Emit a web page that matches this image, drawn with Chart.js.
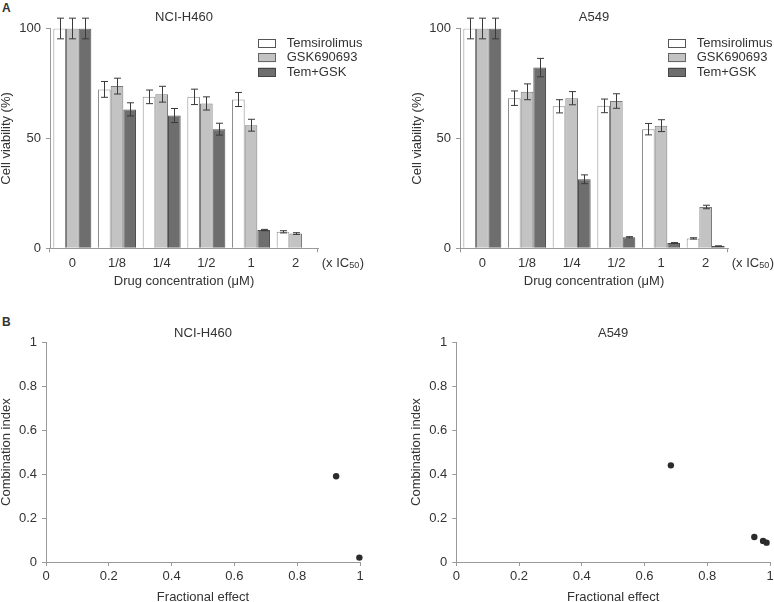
<!DOCTYPE html>
<html><head><meta charset="utf-8">
<script src="https://cdn.jsdelivr.net/npm/chart.js@4"></script>
<style>
html,body{margin:0;padding:0;background:#fff;width:774px;height:602px;overflow:hidden;font-family:'Liberation Sans',Arial,sans-serif;}
.box{position:absolute;}
.box canvas{display:block;}
.panel{position:absolute;font-weight:bold;font-size:12px;line-height:12px;color:#333;}
</style></head><body>
<div class="panel" style="left:2px;top:2.4px">A</div>
<div class="panel" style="left:2px;top:315.7px">B</div>
<div class="box" style="left:0;top:0;width:390px;height:300px"><canvas id="c1" width="390" height="300"></canvas></div>
<div class="box" style="left:390px;top:0;width:384px;height:300px"><canvas id="c2" width="384" height="300"></canvas></div>
<div class="box" style="left:0;top:300px;width:390px;height:310px"><canvas id="c3" width="390" height="310"></canvas></div>
<div class="box" style="left:390px;top:300px;width:384px;height:310px"><canvas id="c4" width="384" height="310"></canvas></div>
<script>
// ---------- data ----------
const categories = ['0', '1/8', '1/4', '1/2', '1', '2'];
const seriesNames = ['Temsirolimus', 'GSK690693', 'Tem+GSK'];
const viabilityTicks = [0, 50, 100];
const fractionTicks = [0, 0.2, 0.4, 0.6, 0.8, 1];
const ciTicks = [0, 0.2, 0.4, 0.6, 0.8, 1];

const h460Tem = [100, 72.3, 68.9, 68.9, 67.7, 7.5];
const h460Gsk = [100, 73.8, 70.1, 65.9, 56.0, 6.7];
const h460Combo = [100, 63.2, 60.4, 54.2, 8.3, 0];
const h460TemErr = [4.7, 3.6, 3.1, 3.5, 3.2, 0.5];
const h460GskErr = [4.7, 3.6, 3.6, 3.0, 2.7, 0.4];
const h460ComboErr = [4.7, 3.0, 3.2, 2.7, 0.3, 0];

const a549Tem = [100, 68.3, 64.6, 64.8, 54.2, 4.5];
const a549Gsk = [100, 71.2, 68.3, 67.0, 55.8, 18.8];
const a549Combo = [100, 82.2, 31.4, 5.0, 2.4, 1.0];
const a549TemErr = [4.7, 3.3, 3.0, 3.1, 2.6, 0.3];
const a549GskErr = [4.7, 3.6, 3.0, 3.3, 2.7, 0.8];
const a549ComboErr = [4.7, 4.2, 2.0, 0.3, 0.2, 0.1];

const h460Fa = [0.924, 0.998];
const h460CI = [0.39, 0.02];
const a549Fa = [0.684, 0.950, 0.978, 0.989];
const a549CI = [0.44, 0.114, 0.096, 0.088];

// ---------- style ----------
const FAMILY = "'Liberation Sans', Arial, sans-serif";
const TEXT = '#333333';
const AXIS = '#999999';
const barFills = ['#ffffff', '#c3c3c3', '#6e6e6e'];
const barBorders = ['#8c8c8c', '#7a7a7a', '#4d4d4d'];
const legendBorders = ['#555555', '#666666', '#444444'];

const errorBarPlugin = {
  id: 'errorBars',
  afterDatasetsDraw(chart) {
    const ctx = chart.ctx, y = chart.scales.y;
    chart.data.datasets.forEach((ds, i) => {
      if (!ds.errors) return;
      const meta = chart.getDatasetMeta(i);
      meta.data.forEach((bar, j) => {
        const e = ds.errors[j];
        if (!e) return;
        const v = ds.data[j];
        const x = Math.round(bar.x) + 0.5;
        const top = y.getPixelForValue(v + e), bot = y.getPixelForValue(v - e);
        const half = 3.5;
        ctx.save();
        ctx.strokeStyle = '#3a3a3a';
        ctx.lineWidth = 1;
        ctx.beginPath();
        ctx.moveTo(x, top); ctx.lineTo(x, bot);
        ctx.moveTo(x - half, top); ctx.lineTo(x + half, top);
        ctx.moveTo(x - half, bot); ctx.lineTo(x + half, bot);
        ctx.stroke();
        ctx.restore();
      });
    });
  }
};

const decorPlugin = {
  id: 'decor',
  afterDraw(chart, args, opts) {
    const {ctx, chartArea} = chart;
    ctx.save();
    ctx.fillStyle = TEXT;
    ctx.font = '13px ' + FAMILY;
    ctx.textBaseline = 'middle';
    if (opts.title) {
      ctx.textAlign = 'center';
      ctx.fillText(opts.title, (chartArea.left + chartArea.right) / 2, chartArea.top - opts.titleGap);
    }
    if (opts.unit) {
      ctx.textAlign = 'left';
      const ux = chartArea.right + 3.7, uy = chartArea.bottom + 14.7;
      ctx.fillText('(x IC', ux, uy);
      const w1 = ctx.measureText('(x IC').width;
      ctx.font = '9px ' + FAMILY;
      ctx.fillText('50', ux + w1, uy + 3);
      const w2 = ctx.measureText('50').width;
      ctx.font = '13px ' + FAMILY;
      ctx.fillText(')', ux + w1 + w2 + 0.5, uy);
    }
    if (opts.legend) {
      const lx = chartArea.right - 59.7;
      chart.data.datasets.forEach((ds, i) => {
        const cy = chartArea.top + 14.7 + i * 14.5;
        ctx.fillStyle = ds.backgroundColor;
        ctx.fillRect(lx, cy - 4.5, 17.7, 9);
        ctx.strokeStyle = ds.legendBorder;
        ctx.lineWidth = 1;
        ctx.strokeRect(Math.round(lx) + 0.5, Math.round(cy - 4.5) + 0.5, 17, 8);
        ctx.fillStyle = TEXT;
        ctx.textAlign = 'left';
        ctx.fillText(ds.label, lx + 28.4, cy);
      });
    }
    ctx.restore();
  }
};

function barChart(id, title, series, errs, padRight, yWidth, yTitlePad) {
  return new Chart(document.getElementById(id), {
    type: 'bar',
    data: {
      labels: categories,
      datasets: series.map((d, i) => ({
        label: seriesNames[i], data: d, errors: errs[i],
        backgroundColor: barFills[i], borderColor: barBorders[i], legendBorder: legendBorders[i],
        borderWidth: 1, borderSkipped: 'start',
        categoryPercentage: 0.85, barPercentage: 1
      }))
    },
    options: {
      responsive: false, animation: false, devicePixelRatio: 1,
      layout: {padding: {top: 28.5, right: padRight, left: 0, bottom: 0}},
      plugins: {
        legend: {display: false}, tooltip: {enabled: false},
        decor: {title: title, titleGap: 11.5, unit: true, legend: true}
      },
      scales: {
        x: {
          grid: {display: true, drawOnChartArea: false, drawTicks: true, tickLength: 4, lineWidth: 1,
                 color: c => (c.type === 'scale' || c.index === 0) ? AXIS : 'rgba(0,0,0,0)'},
          border: {display: true, color: AXIS, width: 1},
          ticks: {color: TEXT, font: {size: 13, family: FAMILY}, padding: 3, maxRotation: 0, autoSkip: false},
          title: {display: true, text: 'Drug concentration (\u03bcM)', color: TEXT,
                  font: {size: 13, family: FAMILY}, padding: {top: 0, bottom: 11.2}},
          afterFit: s => { s.height = 51.7; s.paddingLeft = 0; s.paddingRight = 0; }
        },
        y: {
          min: 0, max: 100,
          afterBuildTicks: s => { s.ticks = viabilityTicks.map(v => ({value: v})); },
          grid: {drawOnChartArea: false, drawTicks: true, tickLength: 4, color: AXIS},
          border: {display: true, color: AXIS, width: 1},
          ticks: {color: TEXT, font: {size: 13, family: FAMILY}, padding: 5},
          title: {display: true, text: 'Cell viability (%)', color: TEXT,
                  font: {size: 13, family: FAMILY, lineHeight: 1}, padding: {top: yTitlePad, bottom: 0}},
          afterFit: s => { s.width = yWidth; s.paddingTop = 0; s.paddingBottom = 0; }
        }
      }
    },
    plugins: [errorBarPlugin, decorPlugin]
  });
}

function ciChart(id, title, fa, ci, padRight, yWidth, yTitlePad) {
  return new Chart(document.getElementById(id), {
    type: 'scatter',
    data: {
      datasets: [{
        label: title,
        data: fa.map((x, i) => ({x: x, y: ci[i]})),
        backgroundColor: '#2b2b2b', borderColor: '#2b2b2b',
        pointRadius: 3.2, pointBorderWidth: 0, clip: false
      }]
    },
    options: {
      responsive: false, animation: false, devicePixelRatio: 1,
      layout: {padding: {top: 42.3, right: padRight, left: 0, bottom: 0}},
      plugins: {
        legend: {display: false}, tooltip: {enabled: false},
        decor: {title: title, titleGap: 9.3, unit: false, legend: false}
      },
      scales: {
        x: {
          type: 'linear', min: 0, max: 1,
          afterBuildTicks: s => { s.ticks = fractionTicks.map(v => ({value: v})); },
          grid: {drawOnChartArea: false, drawTicks: true, tickLength: 4, color: AXIS},
          border: {display: true, color: AXIS, width: 1},
          ticks: {color: TEXT, font: {size: 13, family: FAMILY}, padding: 3, maxRotation: 0,
                  callback: v => String(v)},
          title: {display: true, text: 'Fractional effect', color: TEXT,
                  font: {size: 13, family: FAMILY}, padding: {top: 0, bottom: 5.2}},
          afterFit: s => { s.height = 48; s.paddingLeft = 0; s.paddingRight = 0; }
        },
        y: {
          type: 'linear', min: 0, max: 1,
          afterBuildTicks: s => { s.ticks = ciTicks.map(v => ({value: v})); },
          grid: {drawOnChartArea: false, drawTicks: true, tickLength: 4, color: AXIS},
          border: {display: true, color: AXIS, width: 1},
          ticks: {color: TEXT, font: {size: 13, family: FAMILY}, padding: 5,
                  callback: v => String(v)},
          title: {display: true, text: 'Combination index', color: TEXT,
                  font: {size: 13, family: FAMILY, lineHeight: 1}, padding: {top: yTitlePad, bottom: 0}},
          afterFit: s => { s.width = yWidth; s.paddingTop = 0; s.paddingBottom = 0; }
        }
      }
    },
    plugins: [decorPlugin]
  });
}

barChart('c1', 'NCI-H460', [h460Tem, h460Gsk, h460Combo], [h460TemErr, h460GskErr, h460ComboErr], 72, 50, 0);
barChart('c2', 'A549', [a549Tem, a549Gsk, a549Combo], [a549TemErr, a549GskErr, a549ComboErr], 46, 70, 21);
ciChart('c3', 'NCI-H460', h460Fa, h460CI, 30, 46, 0);
ciChart('c4', 'A549', a549Fa, a549CI, 2.3, 66.3, 19.8);
</script>
</body></html>
